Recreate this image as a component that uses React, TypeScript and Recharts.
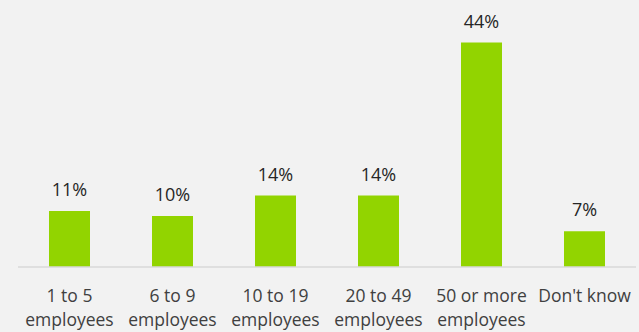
import React from "react";
import { BarChart, Bar, XAxis, YAxis, LabelList } from "recharts";

const categories = ["1 to 5|employees", "6 to 9|employees", "10 to 19|employees", "20 to 49|employees", "50 or more|employees", "Don't know"];
const shares = [11, 10, 14, 14, 44, 7];

const data = categories.map((c, i) => ({ name: c, value: shares[i] }));

const FONT = "'Open Sans', 'Noto Sans', sans-serif";

function CategoryTick(props: any) {
  const { x, y, payload } = props;
  const lines = String(payload.value).split("|");
  return (
    <text x={x} y={y} textAnchor="middle" fill="#404040" fontSize={17.5} fontFamily={FONT}>
      {lines.map((l, i) => (
        <tspan key={i} x={x} dy={i === 0 ? 27 : 24}>
          {l}
        </tspan>
      ))}
    </text>
  );
}

export default function App() {
  return (
    <div style={{ position: "absolute", left: 0, top: 0, width: 639, height: 332, background: "#f2f2f2" }}>
      <BarChart
        width={639}
        height={332}
        data={data}
        margin={{ top: 12, right: 3, bottom: 0, left: 18 }}
        barCategoryGap="30%"
      >
        <XAxis
          dataKey="name"
          height={65}
          interval={0}
          tickLine={false}
          axisLine={{ stroke: "#d9d9d9", strokeWidth: 1.5 }}
          tick={<CategoryTick />}
        />
        <YAxis hide domain={[0, 50]} width={0} />
        <Bar dataKey="value" fill="#92d400" barSize={41} isAnimationActive={false}>
          <LabelList
            dataKey="value"
            position="top"
            offset={15}
            formatter={(v: any) => `${v}%`}
            style={{ fill: "#262626", fontSize: 18, fontFamily: FONT }}
          />
        </Bar>
      </BarChart>
    </div>
  );
}
